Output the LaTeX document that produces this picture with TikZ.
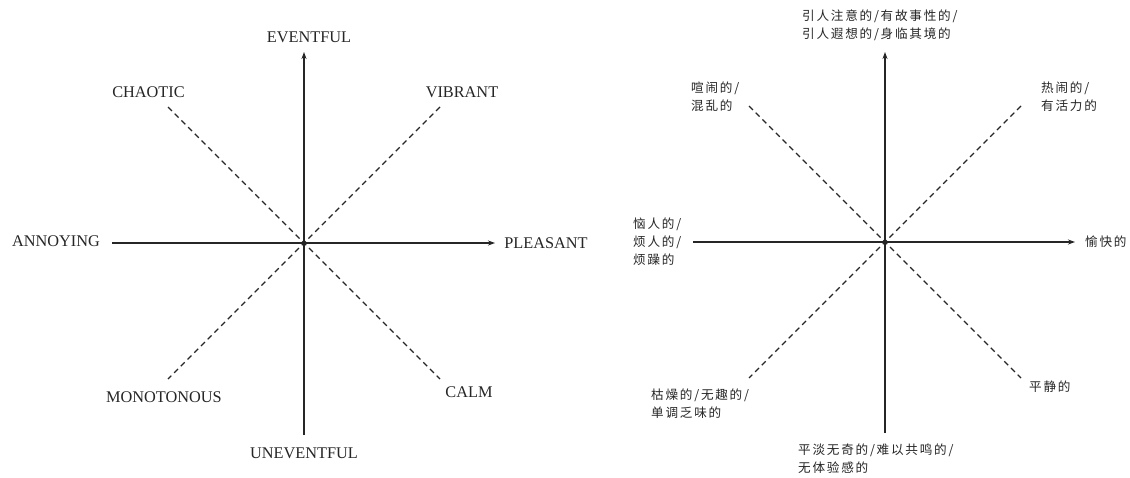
\documentclass[tikz,border=0pt]{standalone}
\usepackage{fontspec}
\setmainfont{Liberation Serif}
\newfontfamily\cjk[LetterSpace=14]{Noto Sans CJK SC}
\usetikzlibrary{arrows.meta}
\definecolor{ink}{HTML}{262626}
\tikzset{
  axisline/.style={draw=ink, line width=1.4pt},
  axisarrow/.style={axisline, -{Stealth[length=7pt,width=5pt]}},
  diag/.style={draw=ink, line width=1.2pt, dash pattern=on 5.5pt off 4pt},
  hub/.style={circle, fill=ink, inner sep=0pt, minimum size=3.6pt},
  en/.style={font=\fontsize{16.3}{18}\selectfont, text=ink, inner sep=0pt},
  zh/.style={font=\cjk\fontsize{12.6}{18}\selectfont, text=ink, inner sep=0pt, align=left, anchor=west},
}
\begin{document}
\begin{tikzpicture}[x=1pt, y=-1pt]
\useasboundingbox (0,0) rectangle (1130,477);
\fill[white] (0,0) rectangle (1130,477);

% ---------- English circumplex ----------
\coordinate (Lc) at (304,243);
\coordinate (Lup) at (304,52);
\coordinate (Ldn) at (304,435);
\coordinate (Llf) at (112,243);
\coordinate (Lrt) at (495,243);
\coordinate (Lnw) at (168,107);
\coordinate (Lne) at (440,107);
\coordinate (Lsw) at (168,379);
\coordinate (Lse) at (440,379);

\draw[diag] (Lnw) -- (Lse);
\draw[diag] (Lne) -- (Lsw);
\draw[axisarrow] (Ldn) -- (Lup);
\draw[axisarrow] (Llf) -- (Lrt);
\node[hub] (Lhub) at (Lc) {};

\node[en] (eventful)   at (309,37)  {EVENTFUL};
\node[en] (chaotic)    at (148.5,92) {CHAOTIC};
\node[en] (vibrant)    at (462,92)  {VIBRANT};
\node[en] (annoying)   at (56,241)  {ANNOYING};
\node[en] (pleasant)   at (546,243) {PLEASANT};
\node[en] (monotonous) at (164,397) {MONOTONOUS};
\node[en] (calm)       at (469,392) {CALM};
\node[en] (uneventful) at (304,453) {UNEVENTFUL};

% ---------- Chinese circumplex ----------
\coordinate (Rc) at (885,242);
\coordinate (Rup) at (885,52);
\coordinate (Rdn) at (885,433);
\coordinate (Rlf) at (693,242);
\coordinate (Rrt) at (1075,242);
\coordinate (Rnw) at (749,106);
\coordinate (Rne) at (1021,106);
\coordinate (Rsw) at (749,378);
\coordinate (Rse) at (1021,378);

\draw[diag] (Rnw) -- (Rse);
\draw[diag] (Rne) -- (Rsw);
\draw[axisarrow] (Rdn) -- (Rup);
\draw[axisarrow] (Rlf) -- (Rrt);
\node[hub] (Rhub) at (Rc) {};

\node[zh] (zhtop)   at (802,25)  {引人注意的/有故事性的/\\引人遐想的/身临其境的};
\node[zh] (zhnw)    at (691,97)  {喧闹的/\\混乱的};
\node[zh] (zhne)    at (1041,97) {热闹的/\\有活力的};
\node[zh] (zhleft)  at (633,242) {恼人的/\\烦人的/\\烦躁的};
\node[zh] (zhright) at (1085,242) {愉快的};
\node[zh] (zhsw)    at (651,404) {枯燥的/无趣的/\\单调乏味的};
\node[zh] (zhse)    at (1029,387) {平静的};
\node[zh] (zhbot)   at (798,459) {平淡无奇的/难以共鸣的/\\无体验感的};
\end{tikzpicture}
\end{document}
